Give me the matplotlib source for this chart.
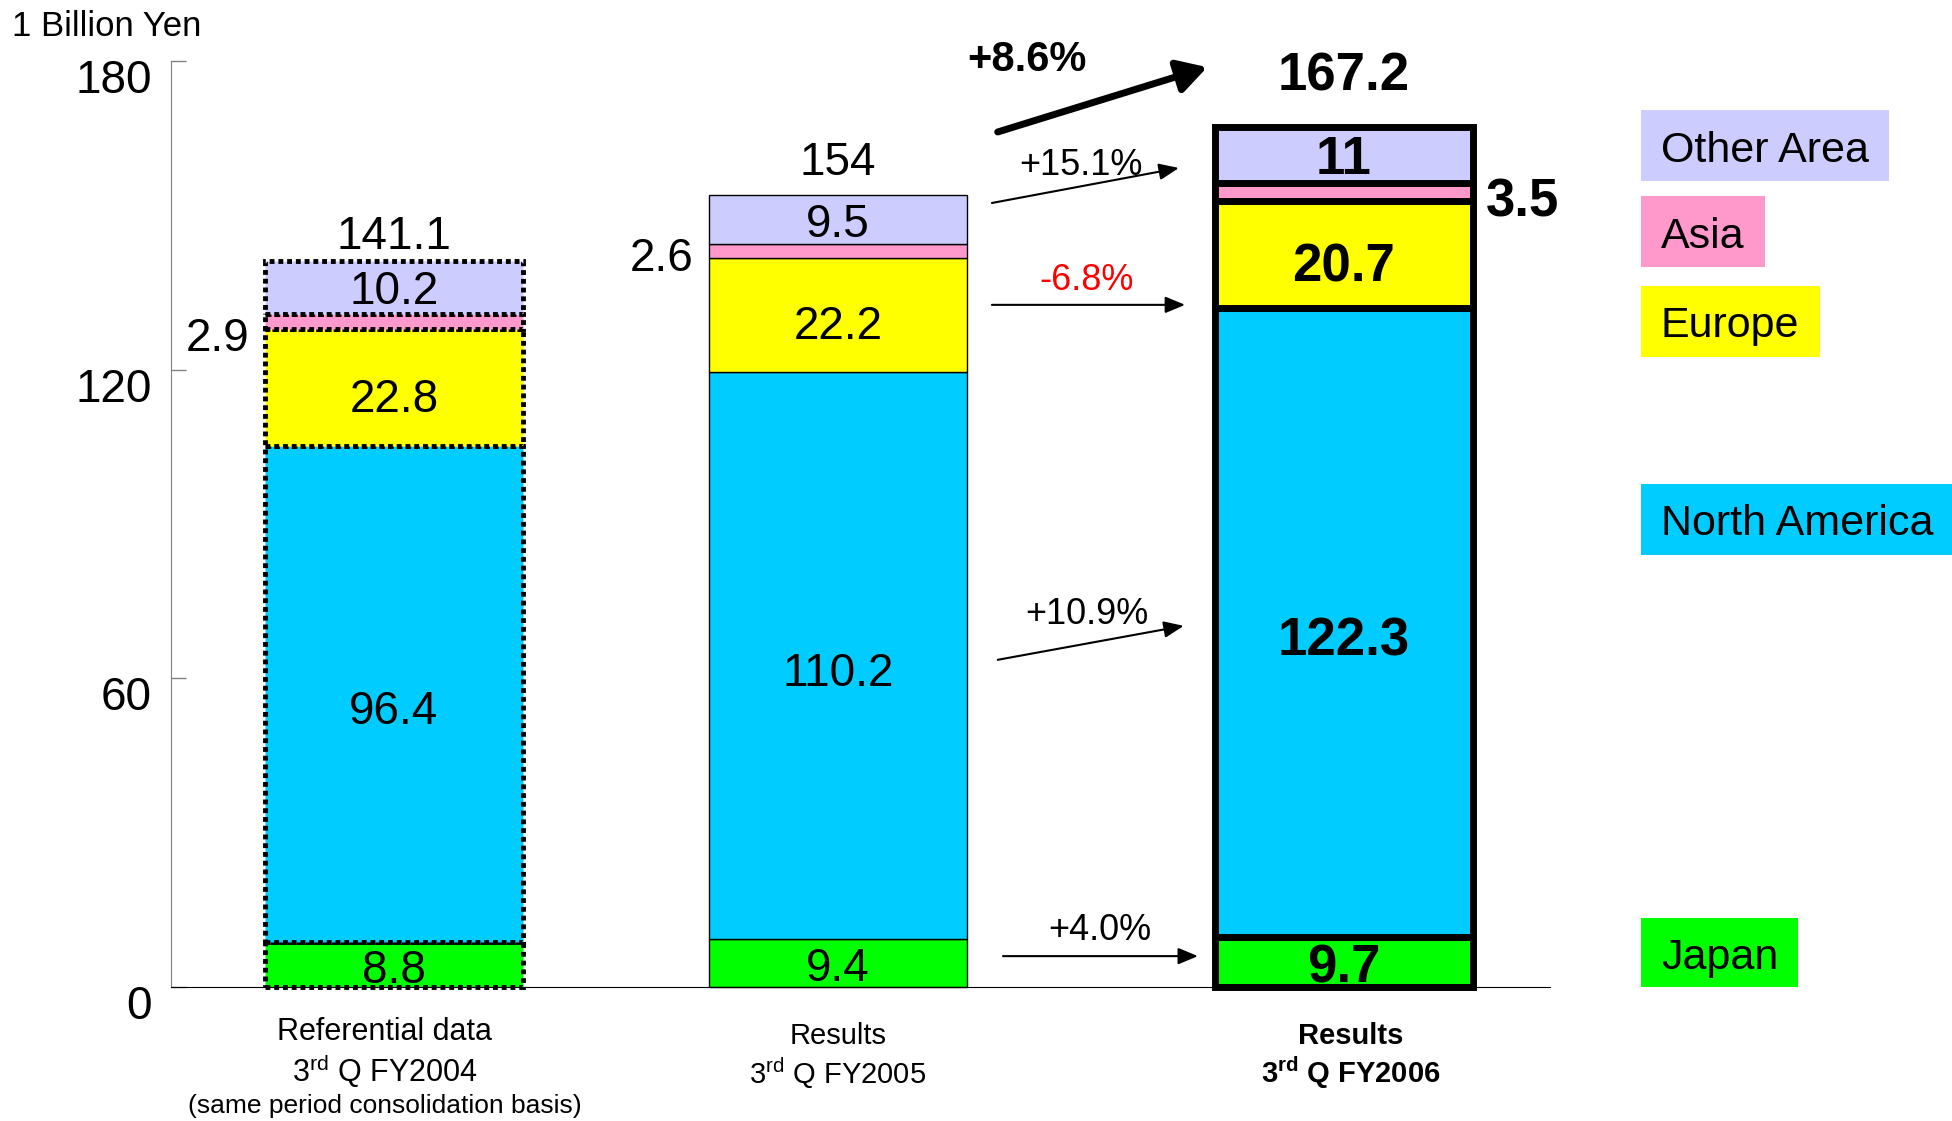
import matplotlib.pyplot as plt
from matplotlib.patches import Rectangle
from matplotlib.transforms import ScaledTranslation

plt.rcParams['font.family'] = ['Liberation Sans', 'DejaVu Sans']
plt.rcParams['mathtext.fontset'] = 'custom'
plt.rcParams['mathtext.rm'] = 'Liberation Sans'
plt.rcParams['mathtext.bf'] = 'Liberation Sans:bold'

# data (1 billion yen), stacked bottom -> top
regions = ['Japan', 'North America', 'Europe', 'Asia', 'Other Area']
colors = ['#00FF00', '#00CCFF', '#FFFF00', '#FF99CC', '#CCCCFF']
ref_fy2004 = [8.8, 96.4, 22.8, 2.9, 10.2]
res_fy2005 = [9.4, 110.2, 22.2, 2.6, 9.5]
res_fy2006 = [9.7, 122.3, 20.7, 3.5, 11.0]
totals = ['141.1', '154', '167.2']
seg_labels = [['8.8', '96.4', '22.8', '2.9', '10.2'],
              ['9.4', '110.2', '22.2', '2.6', '9.5'],
              ['9.7', '122.3', '20.7', '3.5', '11']]
growth = ['+4.0%', '+10.9%', '-6.8%', None, '+15.1%']
growth_colors = ['black', 'black', 'red', None, 'black']
total_growth = '+8.6%'

W, H = 1952, 1121
fig = plt.figure(figsize=(W / 100, H / 100), dpi=100)
ax = fig.add_axes([171 / W, 1 - 987 / H, (1550 - 171) / W, (987 - 61) / H])
ax.set_xlim(-0.502, 2.604)
ax.set_ylim(0, 180)

x_pos = [0, 1, 2.14]
width = 0.58
styles = [dict(lw=3.5, ls=(0, (1, 0.8))), dict(lw=1, ls='-'), dict(lw=5, ls='-')]
label_drop = [1.2, 3.6, 2.4, 0, 1.0]   # small downward nudge of labels inside segments
series = [ref_fy2004, res_fy2005, res_fy2006]

for i, vals in enumerate(series):
    bottom = 0
    bold = 'bold' if i == 2 else 'normal'
    fs = 38 if i == 2 else 33
    for j, (v, c) in enumerate(zip(vals, colors)):
        ax.bar(x_pos[i], v, width, bottom=bottom, color=c, edgecolor='black',
               linewidth=styles[i]['lw'], linestyle=styles[i]['ls'], clip_on=False, zorder=2)
        mid = bottom + v / 2
        if regions[j] == 'Asia':
            if i < 2:
                dy = [3.5, 1.5][i]
                ax.text(x_pos[i] - width / 2 - 0.035, mid - dy, seg_labels[i][j],
                        ha='right', va='center', fontsize=fs, fontweight=bold)
            else:
                ax.text(x_pos[i] + width / 2 + 0.03, mid - 2, seg_labels[i][j],
                        ha='left', va='center', fontsize=fs, fontweight=bold)
        else:
            ax.text(x_pos[i], mid - label_drop[j], seg_labels[i][j], ha='center', va='center',
                    fontsize=fs, fontweight=bold, zorder=3)
        bottom += v
    off = [2.3, 4.0, 7.0][i]
    ax.text(x_pos[i], bottom + off, totals[i], ha='center', va='baseline',
            fontsize=fs, fontweight=bold)

# growth arrows between FY2005 and FY2006
arrow_pts = [(1.372, 6.0, 1.811, 6.0), (1.360, 63.6, 1.779, 70.2),
             (1.347, 132.6, 1.782, 132.6), None, (1.347, 152.4, 1.768, 159.2)]
label_pts = [(1.59, 10.9), (1.561, 72.5), (1.561, 137.4), None, (1.547, 159.6)]
for g, gc, ap, lp in zip(growth, growth_colors, arrow_pts, label_pts):
    if g is None:
        continue
    ax.annotate('', xy=(ap[2], ap[3]), xytext=(ap[0], ap[1]),
                arrowprops=dict(arrowstyle='-|>,head_length=0.6,head_width=0.25',
                                mutation_scale=20, color='black', lw=1.5,
                                shrinkA=0, shrinkB=0))
    ax.text(lp[0], lp[1], g, ha='center', va='center', fontsize=26, color=gc)

ax.annotate('', xy=(1.832, 178.8), xytext=(1.360, 166.2),
            arrowprops=dict(arrowstyle='-|>,head_length=0.7,head_width=0.4',
                            mutation_scale=25, color='black', lw=5,
                            shrinkA=0, shrinkB=0), annotation_clip=False)
ax.text(1.426, 180.2, total_growth, ha='center', va='center', fontsize=30,
        fontweight='bold', clip_on=False)

# axes styling
for s in ['top', 'right']:
    ax.spines[s].set_visible(False)
ax.spines['left'].set_color('#808080')
ax.spines['bottom'].set_color('black')
ax.set_xticks([])
ax.set_yticks([0, 60, 120, 180])
ax.tick_params(axis='y', direction='in', length=11, width=1, color='#808080',
               labelsize=33, pad=14)
shift = ScaledTranslation(0, -0.15, fig.dpi_scale_trans)
for lab in ax.get_yticklabels():
    lab.set_transform(lab.get_transform() + shift)

fig.text(12 / W, 1 - 26 / H, '1 Billion Yen', fontsize=25, ha='left', va='center')


# category labels under the bars
def ay(py):
    return (987 - py) / 926


tr = ax.get_xaxis_transform()
ax.text(x_pos[0] - 0.02, ay(1032), 'Referential data', transform=tr, ha='center', va='center', fontsize=22)
ax.text(x_pos[0] - 0.02, ay(1071), r'3$^{\mathrm{rd}}$ Q FY2004', transform=tr, ha='center', va='center', fontsize=22)
ax.text(x_pos[0] - 0.02, ay(1106), '(same period consolidation basis)', transform=tr, ha='center', va='center', fontsize=19)
ax.text(x_pos[1], ay(1036), 'Results', transform=tr, ha='center', va='center', fontsize=21)
ax.text(x_pos[1], ay(1073), r'3$^{\mathrm{rd}}$ Q FY2005', transform=tr, ha='center', va='center', fontsize=21)
ax.text(x_pos[2] + 0.015, ay(1036), 'Results', transform=tr, ha='center', va='center', fontsize=21, fontweight='bold')
ax.text(x_pos[2] + 0.015, ay(1073), r'$\mathbf{3^{rd}}$ Q FY2006', transform=tr, ha='center', va='center', fontsize=21, fontweight='bold')

# legend boxes at the right
legend_rows = {'Other Area': (110, 181), 'Asia': (196, 267), 'Europe': (286, 357),
               'North America': (484, 555), 'Japan': (918, 987)}
fig.canvas.draw()
rend = fig.canvas.get_renderer()
for name, c in zip(regions, colors):
    y0, y1 = legend_rows[name]
    t = fig.text((1641 + 20) / W, 1 - ((y0 + y1) / 2 + 5) / H, name, fontsize=31,
                 ha='left', va='center', zorder=3)
    bb = t.get_window_extent(rend)
    fig.add_artist(Rectangle((1641 / W, 1 - y1 / H), (bb.width + 40) / W, (y1 - y0) / H,
                             transform=fig.transFigure, facecolor=c, edgecolor='none', zorder=1))

fig.savefig('out.png', dpi=100)
